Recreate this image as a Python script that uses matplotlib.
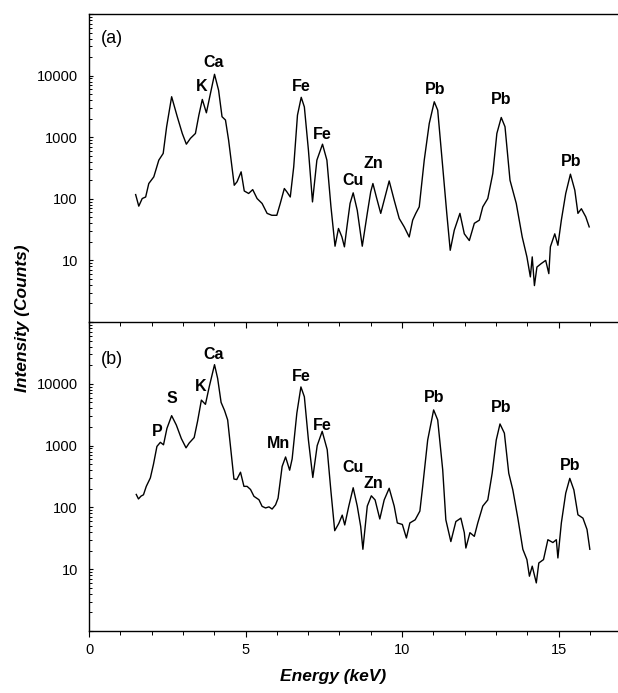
import matplotlib
matplotlib.use("Agg")
import matplotlib.pyplot as plt
from matplotlib.ticker import FixedLocator, FuncFormatter, LogLocator, MultipleLocator, NullFormatter

plt.rcParams['font.family'] = ['Liberation Sans', 'DejaVu Sans']

# spectrum (a)
energy_a = [1.49, 1.59, 1.70, 1.81, 1.91, 2.07, 2.23, 2.37, 2.48, 2.64, 2.82, 2.98, 3.11, 3.24,
            3.40, 3.51, 3.62, 3.75, 3.88, 4.01, 4.14, 4.25, 4.36, 4.46, 4.64, 4.73, 4.86, 4.96,
            5.10, 5.23, 5.37, 5.53, 5.69, 5.84, 6.00, 6.11, 6.24, 6.32, 6.43, 6.54, 6.66, 6.78,
            6.88, 7.01, 7.14, 7.28, 7.46, 7.60, 7.73, 7.86, 7.97, 8.08, 8.16, 8.24, 8.34, 8.44,
            8.57, 8.73, 8.89, 9.00, 9.07, 9.18, 9.32, 9.43, 9.59, 9.75, 9.91, 10.07, 10.23, 10.34,
            10.44, 10.55, 10.71, 10.87, 11.03, 11.14, 11.30, 11.43, 11.54, 11.67, 11.85, 11.99,
            12.15, 12.31, 12.47, 12.58, 12.74, 12.90, 13.03, 13.17, 13.29, 13.45, 13.65, 13.84,
            13.99, 14.10, 14.16, 14.23, 14.31, 14.45, 14.59, 14.69, 14.74, 14.88, 14.98, 15.09,
            15.23, 15.38, 15.52, 15.62, 15.73, 15.87, 15.98]
counts_a = [117, 76, 101, 107, 177, 227, 424, 545, 1480, 4540, 2150, 1150, 770, 957,
            1150, 2280, 4100, 2490, 5130, 10500, 5780, 2150, 1900, 895, 166, 189, 274, 134,
            122, 141, 101, 84, 58, 54, 54, 84, 147, 130, 107, 330, 2280, 4440,
            3100, 617, 89, 424, 770, 424, 74, 17, 33, 24, 16.6, 35, 84, 125,
            65, 17, 58, 130, 177, 107, 58, 95, 195, 95, 48, 35, 24, 45,
            58, 74, 424, 1670, 3760, 2750, 330, 58, 14.6, 31, 58, 27,
            21, 40, 45, 74, 101, 257, 1150, 2090, 1480, 200, 84, 24,
            11.4, 5.4, 11.4, 3.9, 7.8, 8.9, 10, 6.1, 16.6, 27, 17.6, 45,
            122, 251, 138, 58, 69, 51, 35]

# spectrum (b)
energy_b = [1.51, 1.58, 1.66, 1.74, 1.83, 1.96, 2.06, 2.17, 2.28, 2.38, 2.49, 2.64, 2.79, 2.95,
            3.10, 3.20, 3.36, 3.47, 3.59, 3.72, 3.84, 4.01, 4.11, 4.22, 4.33, 4.43, 4.52, 4.63,
            4.72, 4.84, 4.95, 5.05, 5.16, 5.27, 5.43, 5.53, 5.64, 5.75, 5.85, 5.96, 6.04, 6.17,
            6.28, 6.41, 6.49, 6.64, 6.77, 6.88, 7.01, 7.15, 7.29, 7.45, 7.61, 7.73, 7.85, 7.98,
            8.09, 8.17, 8.30, 8.44, 8.57, 8.68, 8.75, 8.89, 9.02, 9.14, 9.29, 9.43, 9.59, 9.75,
            9.85, 10.01, 10.14, 10.25, 10.42, 10.57, 10.66, 10.82, 11.01, 11.14, 11.30, 11.40,
            11.56, 11.72, 11.88, 11.99, 12.04, 12.17, 12.31, 12.42, 12.58, 12.74, 12.88, 13.01,
            13.13, 13.27, 13.41, 13.54, 13.70, 13.86, 13.99, 14.07, 14.16, 14.29, 14.37, 14.52,
            14.66, 14.82, 14.93, 14.98, 15.09, 15.23, 15.36, 15.49, 15.62, 15.78, 15.91, 16.00]
counts_b = [162, 137, 152, 160, 219, 300, 500, 970, 1130, 1030, 1900, 3050, 2150, 1300,
            920, 1100, 1350, 2500, 5450, 4650, 8900, 20400, 12200, 5000, 3700, 2600, 970, 288,
            282, 371, 219, 219, 195, 151, 133, 104, 98, 102, 94, 110, 141, 460,
            655, 400, 610, 3350, 8900, 6170, 1230, 305, 1000, 1700, 860, 180, 42, 55,
            75, 52, 105, 208, 105, 49, 21, 105, 154, 132, 65, 132, 204, 105,
            56, 53, 32, 56, 63, 87, 218, 1230, 3780, 2600, 405, 63,
            28, 59, 67, 39, 22, 39, 34, 56, 105, 132, 357, 1230,
            2240, 1590, 357, 192, 67, 21, 14.3, 7.7, 11.2, 6.0, 12.6, 14.3,
            30, 27, 30, 15.2, 56, 170, 295, 192, 76, 67, 44, 21]

# peak labels
labels_a = ["K", "Ca", "Fe", "Fe", "Cu", "Zn", "Pb", "Pb", "Pb"]
labels_b = ["P", "S", "K", "Ca", "Mn", "Fe", "Fe", "Cu", "Zn", "Pb", "Pb", "Pb"]

# label anchor positions (keV, counts)
pos_a = [(3.60, 6600), (3.99, 16200), (6.79, 6600), (7.46, 1120), (8.45, 200),
         (9.08, 370), (11.05, 5900), (13.16, 4100), (15.39, 400)]
pos_b = [(2.18, 1700), (2.64, 5750), (3.57, 9100), (3.99, 29500), (6.05, 1070),
         (6.79, 12900), (7.46, 2090), (8.45, 440), (9.08, 240), (11.03, 5900),
         (13.16, 4100), (15.37, 470)]

fig = plt.figure(figsize=(6.18, 6.93), dpi=100)
left = 89 / 618
ax_a = fig.add_axes([left, 1 - 322 / 693, 1 - left, 308 / 693])
ax_b = fig.add_axes([left, 1 - 631 / 693, 1 - left, 309 / 693])


def fmt_y(v, pos):
    if 5 < v < 50000:
        return "%d" % round(v)
    return ""


for ax, e, c, labs, pos, tag in [(ax_a, energy_a, counts_a, labels_a, pos_a, "(a)"),
                                 (ax_b, energy_b, counts_b, labels_b, pos_b, "(b)")]:
    ax.plot(e, c, color="black", lw=1.0)
    ax.set_yscale("log")
    ax.set_ylim(1, 100000)
    ax.set_xlim(0, 16.9)
    ax.yaxis.set_major_locator(FixedLocator([1, 10, 100, 1000, 10000, 100000]))
    ax.yaxis.set_major_formatter(FuncFormatter(fmt_y))
    ax.yaxis.set_minor_locator(LogLocator(base=10, subs=range(2, 10), numticks=20))
    ax.yaxis.set_minor_formatter(NullFormatter())
    ax.xaxis.set_major_locator(MultipleLocator(5))
    ax.xaxis.set_minor_locator(MultipleLocator(1))
    ax.tick_params(axis="y", which="major", direction="in", length=3, width=0.8,
                   labelsize=10.5, pad=8)
    ax.tick_params(axis="y", which="minor", direction="in", length=2.5, width=0.7)
    ax.tick_params(axis="x", which="major", direction="out", length=4, width=0.8,
                   labelsize=10.5, pad=5)
    ax.tick_params(axis="x", which="minor", direction="out", length=3, width=0.7)
    ax.spines["right"].set_visible(False)
    for s in ["left", "bottom", "top"]:
        ax.spines[s].set_linewidth(1.0)
    for t, (x, y) in zip(labs, pos):
        ax.text(x, y, t, ha="center", va="center", fontsize=11.5, fontweight="bold")
    ax.text(0.73, 10 ** (4.6 if tag == "(a)" else 4.4), tag, ha="center", va="center", fontsize=13)

ax_a.tick_params(axis="x", labelbottom=False)
ax_b.spines["top"].set_visible(False)

fig.text(333 / 618, 1 - 677 / 693, "Energy (keV)", ha="center", va="center",
         fontsize=12.5, fontweight="bold", fontstyle="italic")
fig.text(23 / 618, 1 - 318 / 693, "Intensity (Counts)", ha="center", va="center",
         rotation=90, fontsize=12.5, fontweight="bold", fontstyle="italic")

ax_b.set_zorder(0)
ax_a.set_zorder(1)
ax_a.patch.set_alpha(0)

fig.savefig("out.png", dpi=100)
